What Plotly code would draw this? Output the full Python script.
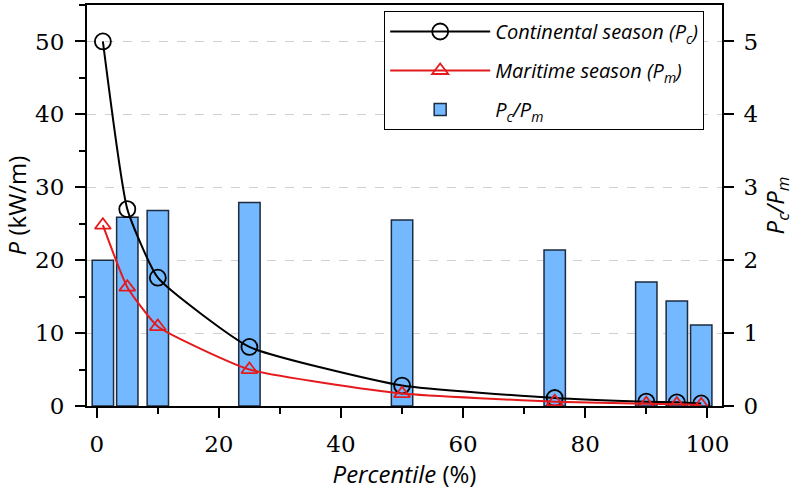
import plotly.graph_objects as go

percentile = [1, 5, 10, 25, 50, 75, 90, 95, 99]
p_continental = [50.0, 27.0, 17.6, 8.1, 2.8, 1.1, 0.6, 0.5, 0.35]
p_maritime = [24.8, 16.3, 10.9, 5.0, 1.7, 0.6, 0.3, 0.25, 0.15]
ratio = [2.0, 2.59, 2.68, 2.79, 2.55, 2.14, 1.70, 1.44, 1.11]

tick_font = dict(family="DejaVu Serif", size=23, color="black")
title_font = dict(family="Open Sans", size=24, color="black")

fig = go.Figure()
fig.add_trace(go.Scatter(
    x=percentile, y=p_continental, yaxis="y2", mode="lines+markers",
    name="<i>Continental season (P<sub>c</sub>)</i>", legendgroup="a",
    line=dict(color="black", width=2, shape="spline", smoothing=0.45),
    marker=dict(symbol="circle-open", size=16, color="black", line=dict(width=1.8)),
))
fig.add_trace(go.Scatter(
    x=percentile, y=p_maritime, yaxis="y2", mode="lines+markers",
    name="<i>Maritime season (P<sub>m</sub>)</i>", legendgroup="b",
    line=dict(color="#e41a1c", width=2, shape="spline", smoothing=0.45),
    marker=dict(symbol="triangle-up-open", size=14, color="#e41a1c", line=dict(width=1.8)),
))
fig.add_trace(go.Bar(
    x=percentile, y=ratio, yaxis="y", width=3.5,
    name="<i>P<sub>c</sub>/P<sub>m</sub></i>", legendgroup="c",
    marker=dict(color="#74b9ff", line=dict(color="#1c2b3f", width=1.5)),
))

fig.update_layout(
    width=800, height=493,
    margin=dict(l=87, r=78, t=3, b=87),
    paper_bgcolor="white", plot_bgcolor="white",
    showlegend=True,
    legend=dict(
        x=0.468, y=0.985, xanchor="left", yanchor="top",
        bgcolor="white", bordercolor="black", borderwidth=1,
        font=dict(family="Open Sans", size=20, color="black"),
        itemwidth=100, tracegroupgap=10,
    ),
    xaxis=dict(
        range=[-1.6, 102.4], tickmode="linear", tick0=0, dtick=20,
        ticks="outside", ticklen=10, tickwidth=2, tickcolor="black",
        minor=dict(dtick=10, ticks="outside", ticklen=6, tickwidth=2, tickcolor="black"),
        showline=True, linewidth=2, linecolor="black", mirror=True,
        showgrid=False, zeroline=False, tickfont=tick_font, ticklabelstandoff=6,
        title=dict(text="<i>Percentile</i> (%)", font=title_font, standoff=0),
    ),
    yaxis=dict(
        side="right", range=[0, 5.5], tickmode="linear", tick0=0, dtick=1,
        ticks="outside", ticklen=10, tickwidth=2, tickcolor="black",
        showline=True, linewidth=2, linecolor="black",
        showgrid=True, gridcolor="#d0d0d0", griddash="dash", gridwidth=1,
        zeroline=False, tickfont=tick_font, ticklabelstandoff=5,
        title=dict(text="<i>P<sub>c</sub>/P<sub>m</sub></i>", font=title_font, standoff=4),
    ),
    yaxis2=dict(
        side="left", overlaying="y", range=[0, 55], tickmode="linear", tick0=0, dtick=10,
        ticks="outside", ticklen=10, tickwidth=2, tickcolor="black",
        minor=dict(dtick=5, ticks="outside", ticklen=6, tickwidth=2, tickcolor="black"),
        showline=True, linewidth=2, linecolor="black",
        showgrid=False, zeroline=False, tickfont=tick_font, ticklabelstandoff=6,
        title=dict(text="<i>P</i> (kW/m)", font=title_font, standoff=2),
    ),
)

fig.write_html("out.html")
